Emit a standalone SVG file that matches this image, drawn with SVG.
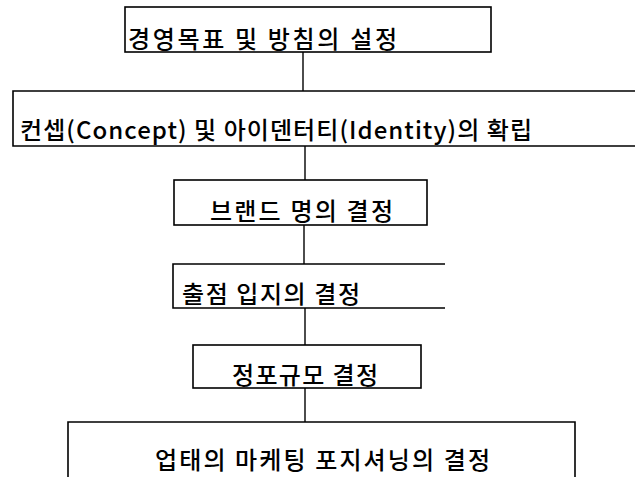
<svg xmlns="http://www.w3.org/2000/svg" width="635" height="477" viewBox="0 0 635 477">
<style>
.box{fill:none;stroke:#000;stroke-width:1.6}
.con{fill:none;stroke:#000;stroke-width:1.4}
.t{font-family:"Noto Sans CJK KR","Noto Sans",sans-serif;font-size:24px;font-weight:500;fill:#000}
</style>
<rect width="635" height="477" fill="#fff"/>
<g id="connectors">
<line class="con" x1="303" y1="52" x2="303" y2="91"/>
<line class="con" x1="305" y1="146" x2="305" y2="180"/>
<line class="con" x1="304" y1="225" x2="304" y2="264"/>
<line class="con" x1="305" y1="308" x2="305" y2="345"/>
<line class="con" x1="305" y1="388" x2="305" y2="422"/>
</g>
<g id="node1">
<rect class="box" x="125" y="7" width="366" height="45"/>
<text class="t" x="128" y="48" textLength="269" lengthAdjust="spacing">경영목표 및 방침의 설정</text>
</g>
<g id="node2">
<path class="box" d="M640,91 H13 V146 H640"/>
<text class="t" x="20" y="139" textLength="512" lengthAdjust="spacing">컨셉(Concept) 및 아이덴터티(Identity)의 확립</text>
</g>
<g id="node3">
<rect class="box" x="174" y="180" width="253" height="45"/>
<text class="t" x="210" y="220" textLength="183" lengthAdjust="spacing">브랜드 명의 결정</text>
</g>
<g id="node4">
<path class="box" d="M445,264 H173 V308 H445"/>
<text class="t" x="182" y="303" textLength="178" lengthAdjust="spacing">출점 입지의 결정</text>
</g>
<g id="node5">
<rect class="box" x="193" y="345" width="228" height="43"/>
<text class="t" x="232" y="384" textLength="146" lengthAdjust="spacing">정포규모 결정</text>
</g>
<g id="node6">
<path class="box" d="M68,480 V422 H575 V480"/>
<text class="t" x="155" y="469" textLength="335" lengthAdjust="spacing">업태의 마케팅 포지셔닝의 결정</text>
</g>
</svg>
